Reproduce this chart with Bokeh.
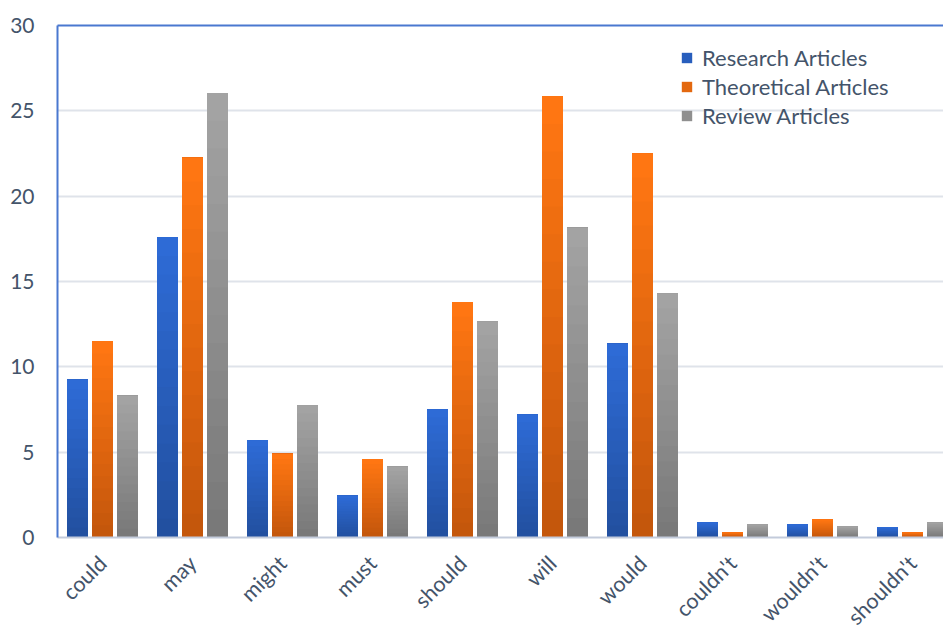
import math
import numpy as np
from bokeh.plotting import figure
from bokeh.models import Range1d, FixedTicker, LinearAxis, Legend, LegendItem
from bokeh.embed import file_html
from bokeh.resources import INLINE

categories = ["could", "may", "might", "must", "should", "will", "would",
              "couldn't", "wouldn't", "shouldn't"]
research = [9.25, 17.6, 5.7, 2.45, 7.5, 7.2, 11.35, 0.88, 0.76, 0.6]
theoretical = [11.5, 22.25, 4.9, 4.6, 13.8, 25.85, 22.5, 0.3, 1.05, 0.3]
review = [8.3, 26.05, 7.75, 4.15, 12.65, 18.15, 14.3, 0.76, 0.64, 0.88]
series_names = ["Research Articles", "Theoretical Articles", "Review Articles"]
y_ticks = [0, 5, 10, 15, 20, 25, 30]

# gradient endpoints (top colour, bottom colour) per series
grad = [((0x2e, 0x6b, 0xd6), (0x22, 0x50, 0xa0)),
        ((0xff, 0x76, 0x12), (0xc4, 0x57, 0x0c)),
        ((0xa3, 0xa3, 0xa3), (0x79, 0x79, 0x79))]

TEXT = "#44546a"
FONT = "Lato"

n = len(categories)
centers = np.arange(n) + 0.5

p = figure(frame_width=886, frame_height=512, output_backend="svg",
           toolbar_location=None, x_range=Range1d(0, 886 / 90.0),
           y_range=Range1d(0, 30), min_border_left=57, min_border_top=25,
           min_border_right=0, min_border_bottom=90)
p.outline_line_color = None
p.background_fill_color = "white"
p.border_fill_color = "white"

bar_w = 21 / 90.0
offs = [-25 / 90.0, 0.0, 25 / 90.0]
K = 16
legend_items = []
for s, vals in enumerate([research, theoretical, review]):
    vals = np.array(vals)
    top_c, bot_c = grad[s]
    swatch = None
    for k in range(K):
        t = k / (K - 1)
        c = tuple(int(round(bot_c[j] + (top_c[j] - bot_c[j]) * t)) for j in range(3))
        col = "#%02x%02x%02x" % c
        r = p.vbar(x=centers + offs[s], width=bar_w, top=vals,
                   bottom=vals * k / K, fill_color=col, line_color=None)
        if k == K // 2:
            swatch = r
    legend_items.append(LegendItem(label=series_names[s], renderers=[swatch]))

# axes
yax = p.yaxis[0]
yax.ticker = FixedTicker(ticks=y_ticks)
yax.axis_line_color = "#4a78d0"
yax.axis_line_width = 2
yax.major_tick_line_color = None
yax.minor_tick_line_color = None
yax.major_label_text_font = FONT
yax.major_label_text_font_size = "21px"
yax.major_label_text_color = TEXT
yax.major_label_standoff = 17

xax = p.xaxis[0]
xax.ticker = FixedTicker(ticks=list(centers))
xax.major_label_overrides = {float(c): lab for c, lab in zip(centers, categories)}
xax.axis_line_color = "#c3cbdb"
xax.axis_line_width = 2
xax.major_tick_line_color = None
xax.minor_tick_line_color = None
xax.major_label_text_font = FONT
xax.major_label_text_font_size = "21.5px"
xax.major_label_text_color = TEXT
xax.major_label_orientation = math.pi / 4
xax.major_label_standoff = 16

top_axis = LinearAxis(ticker=FixedTicker(ticks=[]), axis_line_color="#4a78d0",
                      axis_line_width=2, major_tick_line_color=None,
                      minor_tick_line_color=None, major_label_text_font_size="0px")
p.add_layout(top_axis, "above")

p.xgrid.grid_line_color = None
p.ygrid.ticker = FixedTicker(ticks=y_ticks[1:-1])
p.ygrid.grid_line_color = "#dfe3ea"
p.ygrid.grid_line_width = 2

legend = Legend(items=legend_items, location=(623, 408))
legend.background_fill_alpha = 0
legend.border_line_color = None
legend.label_text_font = FONT
legend.label_text_font_size = "22px"
legend.label_text_color = TEXT
legend.glyph_width = 13
legend.glyph_height = 13
legend.label_standoff = 9
legend.spacing = 2
legend.padding = 0
legend.margin = 0
p.add_layout(legend)

open("out.html", "w").write(file_html(p, INLINE))
